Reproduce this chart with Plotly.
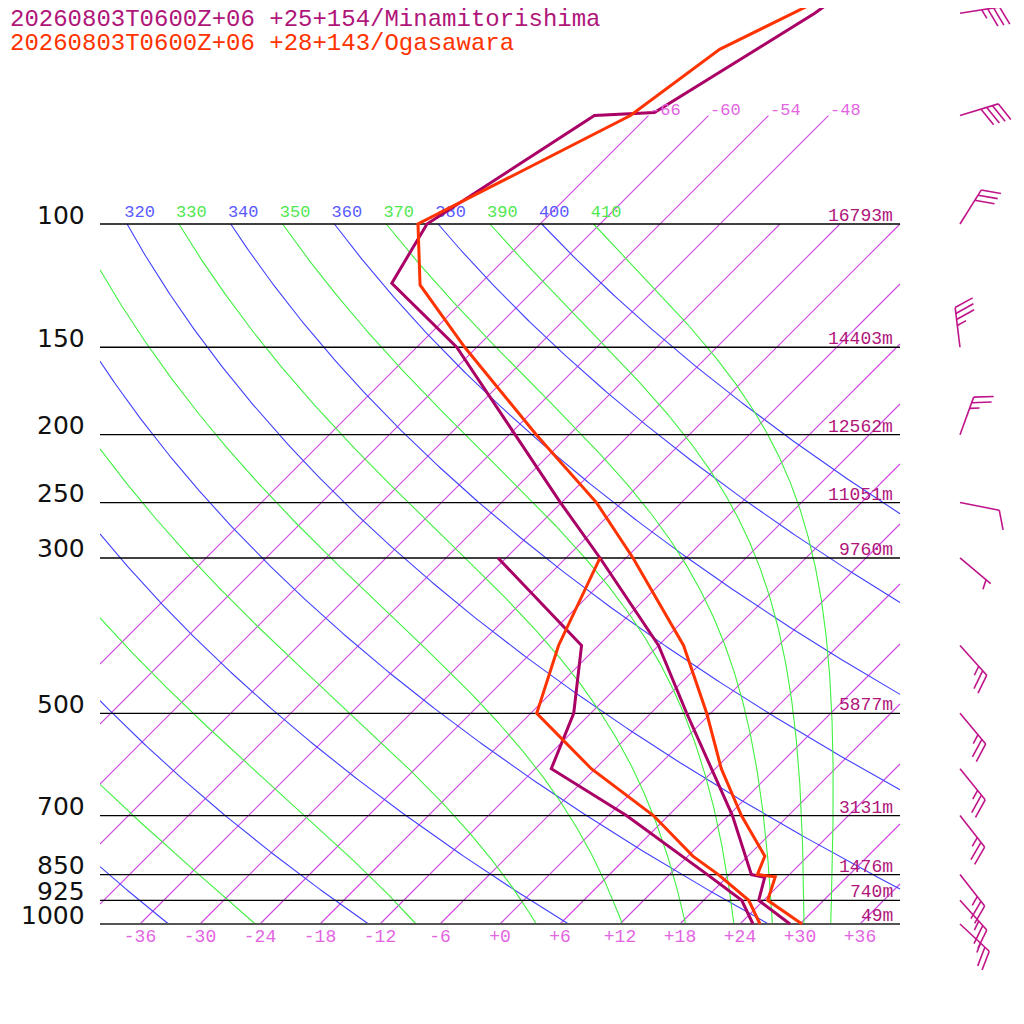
import numpy as np
import plotly.graph_objects as go

# ---------------- data ----------------
levels = [100, 150, 200, 250, 300, 500, 700, 850, 925, 1000]
heights_m = [16793, 14403, 12562, 11051, 9760, 5877, 3131, 1476, 740, 49]

title1 = "20260803T0600Z+06 +25+154/Minamitorishima"
title2 = "20260803T0600Z+06 +28+143/Ogasawara"

# Minamitorishima temperature / dewpoint
m_t_p = [1000, 925, 857.6, 850, 700, 600, 500, 400, 300, 250, 200, 150, 121.5, 100, 70, 69.3, 50, 40]
m_t = [29.0, 23.5, 21.8, 20.2, 12.4, 5.6, -2.4, -12.0, -26.6, -36.1, -47.4, -62.0, -74.9, -77.3, -71.4, -65.7, -59.6, -57.0]
m_td_p = [1000, 925, 850, 700, 600, 500, 400, 300]
m_td = [25.3, 21.8, 15.8, 1.8, -10.4, -13.7, -19.7, -36.8]

# Ogasawara temperature / dewpoint
o_t_p = [1000, 925, 856, 850, 800, 700, 600, 500, 400, 300, 250, 200, 150, 122.2, 100, 70, 56.3, 40]
o_t = [30.2, 24.4, 22.8, 20.8, 19.7, 13.3, 6.6, -0.4, -9.5, -23.3, -32.5, -45.3, -61.2, -71.9, -78.2, -67.8, -65.5, -54.8]
o_td_p = [1000, 925, 850, 800, 700, 600, 500, 400, 300]
o_td = [26.0, 22.5, 16.9, 12.5, 4.5, -6.4, -17.4, -22.0, -26.6]

# Minamitorishima winds
wind_p = [1000, 925, 850, 700, 600, 500, 400, 300, 250, 200, 150, 100, 70, 50]
wind_dir = [133, 138, 142, 142, 141, 140, 138, 130, 101, 20, 353, 32, 73, 81]
wind_kt = [25, 25, 25, 25, 25, 25, 25, 5, 10, 25, 35, 30, 40, 35]

iso_T = list(range(-66, 37, 6))
iso_T_ext = [-66, -60, -54, -48]
dry_theta = list(range(240, 401, 20))
dry_label = [320, 340, 360, 380, 400]
moist_theta = list(range(250, 411, 20))
moist_label = [310, 330, 350, 370, 390, 410]
xtick_T = list(range(-36, 37, 6))

# ---------------- styling / geometry ----------------
SKEW = 70.0          # deg C per decade of pressure
XMIN, XMAX = -40.0, 40.0
KAPPA = 287.04 / 1005.7
PX_X = 10.0          # px per deg
PX_Y = 700.0         # px per decade
PAGE_OFF = 8         # default page margin of the html body

C_ISO = "rgb(206,70,224)"
C_ISO_LBL = "rgb(226,100,226)"
C_DRY = "rgb(64,64,255)"
C_DRY_LBL = "rgb(90,90,255)"
C_MST = "rgb(64,240,64)"
C_MST_LBL = "rgb(80,232,80)"
C_M = "rgb(170,0,102)"
C_O = "rgb(255,51,0)"
C_TXT = "rgb(176,21,122)"
C_BARB = "rgb(192,20,138)"
MONO = "Liberation Mono"


def skx(T, p):
    return np.asarray(T, float) + SKEW * (3.0 - np.log10(np.asarray(p, float)))


def clip_x(xs, ys, xmin=XMIN, xmax=XMAX):
    ox, oy = [], []
    last = None
    for i in range(len(xs) - 1):
        x0, y0, x1, y1 = float(xs[i]), float(ys[i]), float(xs[i + 1]), float(ys[i + 1])
        dx = x1 - x0
        if abs(dx) < 1e-12:
            if not (xmin <= x0 <= xmax):
                continue
            tlo, thi = 0.0, 1.0
        else:
            ta, tb = (xmin - x0) / dx, (xmax - x0) / dx
            tlo, thi = max(0.0, min(ta, tb)), min(1.0, max(ta, tb))
            if tlo > thi:
                continue
        a = (x0 + tlo * dx, y0 + tlo * (y1 - y0))
        b = (x0 + thi * dx, y0 + thi * (y1 - y0))
        if last is None or abs(last[0] - a[0]) > 1e-9 or abs(last[1] - a[1]) > 1e-9:
            if last is not None:
                ox.append(None); oy.append(None)
            ox.append(a[0]); oy.append(a[1])
        ox.append(b[0]); oy.append(b[1])
        last = b
    return ox, oy


def dTdlnp(T, p):
    Tc = T - 273.15
    es = 6.112 * np.exp(17.67 * Tc / (Tc + 243.5))
    rs = 0.622 * es / (p - es)
    Lv, Rd, cp, eps = 2.501e6, 287.04, 1005.7, 0.622
    return (Rd * T + Lv * rs) / (cp + Lv * Lv * rs * eps / (Rd * T * T))


def moist_profile(theta, parr):
    T = theta * (parr[0] / 1000.0) ** KAPPA
    out = [T]
    for i in range(len(parr) - 1):
        l0 = np.log(parr[i]); h = np.log(parr[i + 1]) - l0
        f = lambda TT, lp: dTdlnp(TT, np.exp(lp))
        k1 = f(T, l0)
        k2 = f(T + h / 2 * k1, l0 + h / 2)
        k3 = f(T + h / 2 * k2, l0 + h / 2)
        k4 = f(T + h * k3, l0 + h)
        T = T + h * (k1 + 2 * k2 + 2 * k3 + k4) / 6
        out.append(T)
    return np.array(out) - 273.15


def add_line(fig, xs, ys, color, width):
    fig.add_trace(go.Scatter(x=xs, y=ys, mode="lines", line=dict(color=color, width=width),
                             hoverinfo="skip", showlegend=False))


fig = go.Figure()

# isotherms (one trace each)
for T in iso_T:
    ptop = 70.0 if T in iso_T_ext else 100.0
    pp = np.array([1000.0, ptop])
    xs, ys = clip_x(list(skx([T, T], pp)), list(np.log10(pp)))
    if xs:
        add_line(fig, xs, ys, C_ISO, 1.1)

# dry adiabats
parr = np.logspace(3, 2, 300)
for th in dry_theta:
    Tc = th * (parr / 1000.0) ** KAPPA - 273.15
    xs, ys = clip_x(list(skx(Tc, parr)), list(np.log10(parr)))
    if xs:
        add_line(fig, xs, ys, C_DRY, 1.1)

# moist adiabats
parr_up = np.logspace(2, 3, 400)
moist_top_x = {}
for th in moist_theta:
    Tc = moist_profile(th, parr_up)
    X = skx(Tc, parr_up)
    moist_top_x[th] = float(X[0])
    xs, ys = clip_x(list(X), list(np.log10(parr_up)))
    if xs:
        add_line(fig, xs, ys, C_MST, 1.1)

# isobars
for p in levels[:-1]:
    add_line(fig, [XMIN, XMAX], [float(np.log10(p))] * 2, "rgb(0,0,0)", 1.3)
add_line(fig, [XMIN, XMAX], [3.0, 3.0], "rgb(85,85,85)", 2)

# labels of adiabats at 100 hPa (clipped to plot area)
lx, ly, lt, lc = [], [], [], []
for th in dry_label:
    x100 = th * 0.1 ** KAPPA - 273.15 + SKEW
    lx.append(x100 + 1.25); ly.append(2.0 - 11 / PX_Y); lt.append(str(th)); lc.append(C_DRY_LBL)
for th in moist_label:
    lx.append(moist_top_x[th] + 1.25); ly.append(2.0 - 11 / PX_Y); lt.append(str(th)); lc.append(C_MST_LBL)
fig.add_trace(go.Scatter(x=lx, y=ly, mode="text", text=lt, textposition="middle center",
                         textfont=dict(family=MONO, size=17, color=lc), cliponaxis=True,
                         hoverinfo="skip", showlegend=False))

# temperature labels along the 1000 hPa line
fig.add_trace(go.Scatter(x=xtick_T, y=[3.0 + 13 / PX_Y] * len(xtick_T), mode="text",
                         text=[f"{t:+d}" if t >= 0 else f"{t:d}" for t in xtick_T],
                         textposition="middle center",
                         textfont=dict(family=MONO, size=18, color=C_ISO_LBL),
                         cliponaxis=False, hoverinfo="skip", showlegend=False))

# profiles
add_line(fig, skx(m_td, m_td_p), np.log10(m_td_p), C_M, 3)
add_line(fig, skx(m_t, m_t_p), np.log10(m_t_p), C_M, 3)
add_line(fig, skx(o_td, o_td_p), np.log10(o_td_p), C_O, 3)
add_line(fig, skx(o_t, o_t_p), np.log10(o_t_p), C_O, 3)

# wind barbs
BARB_X = 46.0
STAFF, FULL, HALF, SPACE, ANG = 40.0, 20.0, 10.0, 6.0, np.radians(68)
wx, wy = [], []
for p, d, s in zip(wind_p, wind_dir, wind_kt):
    bxp, byp = BARB_X, float(np.log10(p))
    r = np.radians(d)
    ux, uy = np.sin(r), -np.cos(r)      # screen coords (y down)
    vx = ux * np.cos(ANG) - uy * np.sin(ANG)
    vy = ux * np.sin(ANG) + uy * np.cos(ANG)

    def pt(sx, sy):
        return float(bxp + sx / PX_X), float(byp + sy / PX_Y)
    tipx, tipy = ux * STAFF, uy * STAFF
    a = pt(0, 0); b = pt(tipx, tipy)
    wx += [a[0], b[0], None]; wy += [a[1], b[1], None]
    nfull = int(s // 10); nhalf = 1 if (s % 10) >= 5 else 0
    k = 0
    for i in range(nfull):
        sx, sy = tipx - k * SPACE * ux, tipy - k * SPACE * uy
        e = pt(sx + FULL * vx, sy + FULL * vy); st = pt(sx, sy)
        wx += [st[0], e[0], None]; wy += [st[1], e[1], None]
        k += 1
    if nhalf:
        if k == 0:
            k = 1
        sx, sy = tipx - k * SPACE * ux, tipy - k * SPACE * uy
        e = pt(sx + HALF * vx, sy + HALF * vy); st = pt(sx, sy)
        wx += [st[0], e[0], None]; wy += [st[1], e[1], None]
add_line(fig, wx, wy, C_BARB, 1.6)

# figure geometry (page has an 8px body margin)
FIG_W = 1024 - PAGE_OFF
FIG_H = 1024 - PAGE_OFF
ML = 100 - PAGE_OFF
PLOT_W = FIG_W - ML
PLOT_H = FIG_H
Y_BOTTOM = 3.0 + (1024 - 924) / PX_Y

ann = []
for T in iso_T_ext:
    ann.append(dict(x=float(skx(T, 70.0)), y=float(np.log10(70.0)), xref="x", yref="y",
                    text=str(T), showarrow=False, xanchor="left", yanchor="middle", yshift=5,
                    font=dict(family=MONO, size=17, color=C_ISO_LBL)))
for p, h in zip(levels, heights_m):
    ann.append(dict(x=39.5, y=float(np.log10(p)), xref="x", yref="y", text=f"{h}m",
                    showarrow=False, xanchor="right", yanchor="middle", yshift=8,
                    font=dict(family=MONO, size=18, color=C_TXT)))
for p in levels:
    ann.append(dict(x=-13 / PLOT_W, y=float(np.log10(p)), xref="paper", yref="y", text=str(p),
                    showarrow=False, xanchor="right", yanchor="middle", yshift=9,
                    font=dict(family="DejaVu Sans", size=25, color="rgb(17,17,17)")))
ann.append(dict(x=-92 / PLOT_W, y=1 - 12 / PLOT_H, xref="paper", yref="paper", text=title1,
                showarrow=False, xanchor="left", yanchor="middle",
                font=dict(family=MONO, size=24, color=C_TXT)))
ann.append(dict(x=-92 / PLOT_W, y=1 - 35 / PLOT_H, xref="paper", yref="paper", text=title2,
                showarrow=False, xanchor="left", yanchor="middle",
                font=dict(family=MONO, size=24, color=C_O)))

fig.update_layout(
    width=FIG_W, height=FIG_H,
    margin=dict(l=ML, r=0, t=0, b=0, pad=0),
    paper_bgcolor="white", plot_bgcolor="white",
    showlegend=False, annotations=ann,
    xaxis=dict(range=[XMIN, XMIN + PLOT_W / PX_X], showgrid=False, zeroline=False, showline=False,
               showticklabels=False, ticks=""),
    yaxis=dict(range=[Y_BOTTOM, Y_BOTTOM - PLOT_H / PX_Y], showgrid=False, zeroline=False,
               showline=False, showticklabels=False, ticks=""),
)

fig.write_html("out.html")
